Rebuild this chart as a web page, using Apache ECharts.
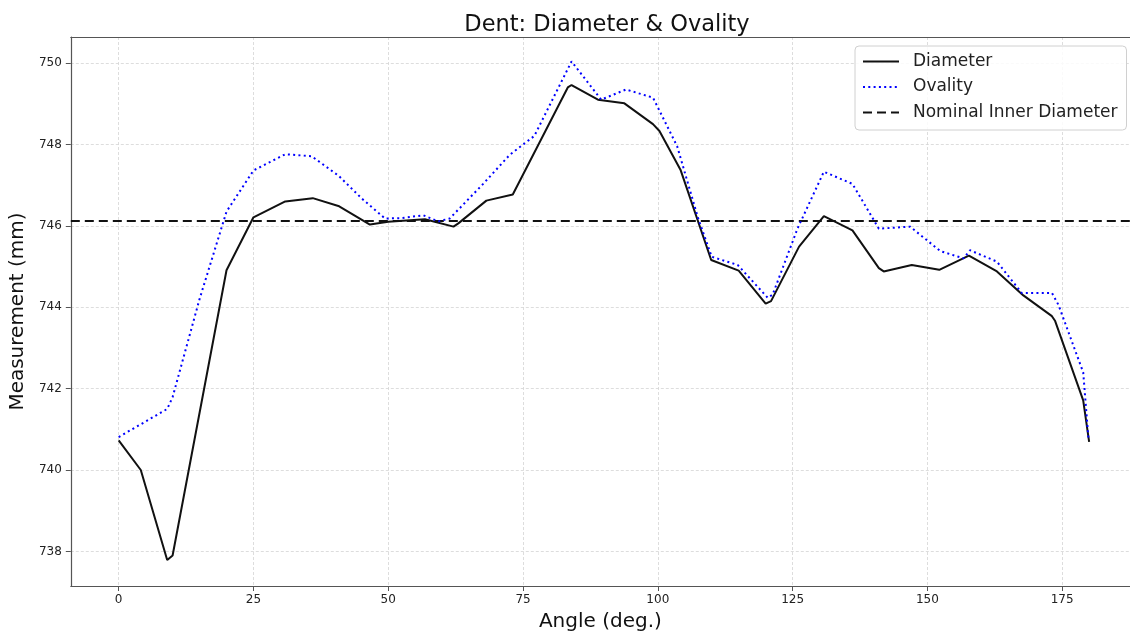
<!DOCTYPE html>
<html>
<head>
<meta charset="utf-8">
<script src="https://cdn.jsdelivr.net/npm/echarts@6/dist/echarts.min.js"></script>
<style>
html,body{margin:0;padding:0;background:#fff;}
#chart{width:1130px;height:637px;}
</style>
</head>
<body>
<div id="chart"></div>
<script>
const diamX = [0, 4.1, 9.0, 10.0, 20.0, 25.0, 30.9, 36.0, 40.9, 46.6, 50.0, 56.8, 62.1, 63.0, 68.2, 73.1, 83.3, 84.0, 88.9, 93.8, 99.1, 100.3, 104.2, 109.9, 115.0, 120.0, 121.0, 126.2, 130.8, 136.1, 141.0, 141.9, 147.1, 152.2, 157.7, 162.9, 167.8, 173.1, 173.7, 178.9, 180.0];
const diamY = [740.73, 740.0, 737.79, 737.9, 744.91, 746.21, 746.60, 746.68, 746.48, 746.03, 746.10, 746.16, 745.98, 746.06, 746.62, 746.77, 749.40, 749.46, 749.10, 749.01, 748.50, 748.33, 747.38, 745.16, 744.90, 744.09, 744.15, 745.49, 746.24, 745.89, 744.96, 744.88, 745.04, 744.92, 745.27, 744.88, 744.29, 743.78, 743.66, 741.71, 740.69];
const ovalX = [0, 9.0, 10.0, 15.0, 20.0, 25.0, 30.9, 35.8, 40.8, 45.1, 49.4, 52.5, 56.5, 59.3, 61.4, 67.6, 72.5, 77.1, 84.0, 89.5, 94.1, 99.1, 103.6, 107.4, 110.0, 114.8, 120.4, 121.3, 125.9, 130.8, 136.1, 141.0, 146.8, 152.4, 156.7, 157.9, 162.9, 167.5, 173.1, 174.3, 178.9, 179.9];
const ovalY = [740.81, 741.50, 741.79, 744.2, 746.35, 747.36, 747.76, 747.71, 747.23, 746.67, 746.18, 746.19, 746.26, 746.11, 746.18, 747.03, 747.74, 748.21, 750.04, 749.10, 749.35, 749.15, 747.95, 746.22, 745.24, 745.04, 744.23, 744.31, 745.93, 747.33, 747.03, 745.93, 745.98, 745.38, 745.20, 745.40, 745.12, 744.35, 744.35, 744.06, 742.40, 740.73];
const nominalValue = 746.12;
const xRange = [-8.88, 187.58];
const yRange = [737.15, 750.64];
const xTickStep = 25;
const yTickStep = 2;

const FONT = 'DejaVu Sans';
const zip = (xs, ys) => xs.map((x, i) => [x, ys[i]]);

const chart = echarts.init(document.getElementById('chart'), null, {renderer: 'canvas'});
const spine = {show: true, onZero: false, lineStyle: {color: '#555', width: 1.2}};
const gridLine = {show: true, lineStyle: {color: '#d4d4d4', width: 0.8, type: [3, 2]}};
chart.setOption({
  animation: false,
  backgroundColor: '#fff',
  title: {
    text: 'Dent: Diameter & Ovality',
    left: 602, top: 9, textAlign: 'center',
    textStyle: {fontFamily: FONT, fontSize: 22.5, fontWeight: 'normal', color: '#111'}
  },
  grid: {left: 68, top: 37, right: 0, bottom: 47, show: false},
  legend: {
    orient: 'vertical', left: 855, top: 46,
    itemWidth: 36, itemHeight: 17, itemGap: 8.5,
    padding: [7, 9, 9, 7],
    backgroundColor: 'rgba(255,255,255,0.85)',
    borderColor: '#d0d0d0', borderWidth: 1, borderRadius: 4,
    selectedMode: false,
    itemStyle: {color: 'rgba(0,0,0,0)', borderWidth: 0, opacity: 0},
    textStyle: {fontFamily: FONT, fontSize: 17, color: '#222', lineHeight: 17, padding: [0, 0, 0, 9]},
    data: ['Diameter', 'Ovality', 'Nominal Inner Diameter']
  },
  xAxis: [{
    type: 'value', min: xRange[0], max: xRange[1],
    minInterval: xTickStep, maxInterval: xTickStep,
    name: 'Angle (deg.)', nameLocation: 'middle', nameGap: 26,
    nameTextStyle: {fontFamily: FONT, fontSize: 20, color: '#111'},
    axisLine: spine,
    axisTick: {show: true, length: 5, lineStyle: {color: '#555', width: 1}},
    splitLine: gridLine,
    axisLabel: {fontFamily: FONT, fontSize: 12, color: '#222', margin: 8, showMinLabel: false, showMaxLabel: false}
  }, {
    type: 'value', position: 'top', min: xRange[0], max: xRange[1],
    axisLine: spine, axisTick: {show: false}, axisLabel: {show: false}, splitLine: {show: false}
  }],
  yAxis: {
    type: 'value', min: yRange[0], max: yRange[1],
    minInterval: yTickStep, maxInterval: yTickStep,
    name: 'Measurement (mm)', nameLocation: 'middle', nameGap: 39,
    nameTextStyle: {fontFamily: FONT, fontSize: 20, color: '#111'},
    axisLine: spine,
    axisTick: {show: true, length: 5, lineStyle: {color: '#555', width: 1}},
    splitLine: gridLine,
    axisLabel: {fontFamily: FONT, fontSize: 12, color: '#222', margin: 9, showMinLabel: false, showMaxLabel: false}
  },
  series: [
    {
      name: 'Diameter', type: 'line', symbol: 'none', z: 3,
      data: zip(diamX, diamY),
      lineStyle: {color: '#111', width: 2},
      itemStyle: {color: '#111'}
    },
    {
      name: 'Ovality', type: 'line', symbol: 'none', z: 4,
      data: zip(ovalX, ovalY),
      lineStyle: {color: '#0000ff', width: 2, type: [2, 3.3]},
      itemStyle: {color: '#0000ff'}
    },
    {
      name: 'Nominal Inner Diameter', type: 'line', symbol: 'none', z: 2,
      data: [[xRange[0], nominalValue], [xRange[1], nominalValue]],
      lineStyle: {color: '#111', width: 2, type: [9, 5]},
      itemStyle: {color: '#111'}
    }
  ]
});
</script>
</body>
</html>
